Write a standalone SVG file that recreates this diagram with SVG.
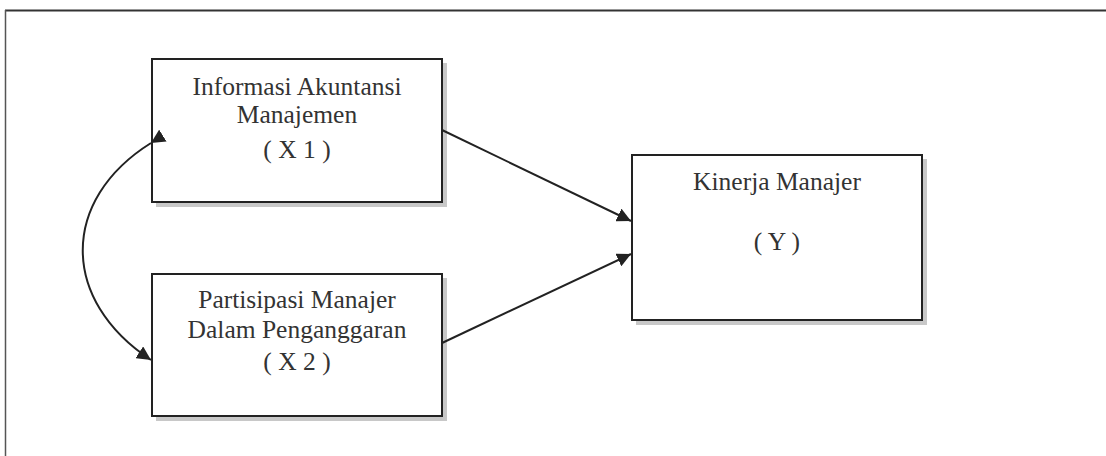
<svg xmlns="http://www.w3.org/2000/svg" width="1106" height="456" viewBox="0 0 1106 456">
<style>
.box{fill:#fff;stroke:#222;stroke-width:2}
.shadow{fill:#c8c8c8}
.t{font-family:"Liberation Serif","Times New Roman",serif;font-size:25.5px;fill:#333;text-anchor:middle}
.conn{fill:none;stroke:#222;stroke-width:2}
</style>
<defs>
<marker id="ah" viewBox="0 0 10 10" refX="10" refY="5" markerWidth="7" markerHeight="7" orient="auto" markerUnits="strokeWidth">
<path d="M0,0 L10,5 L0,10 z" fill="#222"/>
</marker>
</defs>
<rect width="1106" height="456" fill="#fff"/>
<g id="frame">
<line x1="5" y1="10.5" x2="1106" y2="10.5" stroke="#333" stroke-width="2"/>
<line x1="5.5" y1="10" x2="5.5" y2="456" stroke="#555" stroke-width="1.5"/>
</g>
<g id="x1">
<rect class="shadow" x="156" y="63" width="291" height="144"/>
<rect class="box" x="152" y="59" width="290" height="143"/>
<text class="t" x="297" y="95">Informasi Akuntansi</text>
<text class="t" x="297" y="123">Manajemen</text>
<text class="t" x="297" y="158">( X 1 )</text>
</g>
<g id="x2">
<rect class="shadow" x="156" y="278" width="291" height="143"/>
<rect class="box" x="152" y="274" width="290" height="142"/>
<text class="t" x="297" y="308">Partisipasi Manajer</text>
<text class="t" x="297" y="338">Dalam Penganggaran</text>
<text class="t" x="297" y="370">( X 2 )</text>
</g>
<g id="y">
<rect class="shadow" x="636" y="159" width="291" height="166"/>
<rect class="box" x="632" y="155" width="290" height="165"/>
<text class="t" x="777" y="190">Kinerja Manajer</text>
<text class="t" x="777" y="250">( Y )</text>
</g>
<g id="connectors">
<line class="conn" x1="442" y1="130" x2="631" y2="221" marker-end="url(#ah)"/>
<line class="conn" x1="442" y1="343" x2="631" y2="254" marker-end="url(#ah)"/>
<path class="conn" d="M151,143 C60,200 60,300 151,360" marker-start="url(#ah)" marker-end="url(#ah)"/>
</g>
</svg>
